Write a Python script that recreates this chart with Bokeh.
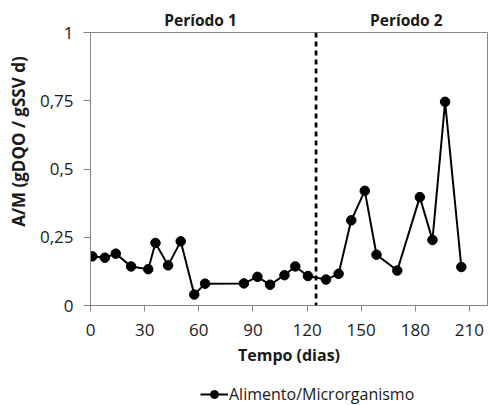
import math
from bokeh.plotting import figure
from bokeh.layouts import column, row
from bokeh.models import FixedTicker, Legend, LegendItem, Span, LinearAxis, Label
from bokeh.embed import file_html
from bokeh.resources import INLINE

# ---- data ----
days = [1, 8, 14, 22.5, 32, 36, 43, 50, 57.5, 63.5, 85, 92.5, 99.5, 107.5,
        113.5, 120.5, 130.5, 137.5, 144.5, 152, 158.5, 170, 182.5, 189.5,
        196.5, 205.5]
am = [0.18, 0.175, 0.19, 0.143, 0.133, 0.229, 0.147, 0.235, 0.04, 0.08,
      0.081, 0.105, 0.076, 0.111, 0.143, 0.108, 0.095, 0.116, 0.312, 0.42,
      0.186, 0.128, 0.397, 0.24, 0.746, 0.141]
x_ticks = [0, 30, 60, 90, 120, 150, 180, 210]
y_ticks = [0, 0.25, 0.5, 0.75, 1]
y_tick_labels = ["0", "0,25", "0,5", "0,75", "1"]
period_names = ["Período 1", "Período 2"]
period_centers = [61, 175]
period_change = 125
series_name = "Alimento/Microrganismo"
x_title = "Tempo (dias)"
y_title = "A/M (gDQO / gSSV d)"

FONT = "Open Sans"
AXIS_GRAY = "#868686"
TXT = "#1a1a1a"

p = figure(width=459, height=383, output_backend="svg", toolbar_location=None,
           x_range=(0, 220), y_range=(0, 1),
           min_border_left=60, min_border_right=2, min_border_top=32,
           min_border_bottom=78)
p.xgrid.visible = False
p.ygrid.visible = False
p.outline_line_color = AXIS_GRAY
p.outline_line_width = 1

for ax in (p.xaxis, p.yaxis):
    ax.axis_line_color = AXIS_GRAY
    ax.major_tick_line_color = AXIS_GRAY
    ax.minor_tick_line_color = None
    ax.major_tick_in = 0
    ax.major_label_text_font = FONT
    ax.major_label_text_font_size = "17px"
    ax.major_label_text_color = TXT
    ax.axis_label_text_font = FONT
    ax.axis_label_text_font_style = "bold"
    ax.axis_label_text_color = TXT

p.xaxis.major_tick_out = 6
p.yaxis.major_tick_out = 7
p.xaxis.ticker = FixedTicker(ticks=x_ticks)
p.yaxis.ticker = FixedTicker(ticks=y_ticks)
p.yaxis.major_label_overrides = {t: l for t, l in zip(y_ticks, y_tick_labels)}
p.xaxis.major_label_standoff = 12
p.yaxis.major_label_standoff = 10
p.xaxis.axis_label = x_title
p.xaxis.axis_label_text_font_size = "16px"
p.xaxis.axis_label_standoff = 5

# period labels drawn as an unticked axis above the frame
period_axis = LinearAxis(ticker=FixedTicker(ticks=period_centers),
                         major_label_overrides={c: n for c, n in zip(period_centers, period_names)},
                         axis_line_color=None, major_tick_line_color=None,
                         minor_tick_line_color=None, major_tick_out=0,
                         major_label_standoff=2,
                         major_label_text_font=FONT,
                         major_label_text_font_style="bold",
                         major_label_text_font_size="15.5px",
                         major_label_text_color=TXT)
p.add_layout(period_axis, "above")

p.add_layout(Span(location=period_change, dimension="height",
                  line_color="black", line_width=2.7, line_dash="5 4"))

p.line(days, am, line_color="black", line_width=2)
p.scatter(days, am, size=9.5, fill_color="black", line_color="black")

# ---- y-axis title strip on the left (placed higher than frame centre) ----
yt = figure(width=30, height=405, output_backend="svg", toolbar_location=None,
            x_range=(0, 30), y_range=(0, 405),
            min_border_left=0, min_border_right=0, min_border_top=0,
            min_border_bottom=0)
yt.axis.visible = False
yt.grid.visible = False
yt.outline_line_color = None
yt.add_layout(Label(x=17.5, y=264, text=y_title, angle=math.pi / 2,
                    text_align="center", text_baseline="middle",
                    text_font=FONT, text_font_style="bold",
                    text_font_size="17px", text_color=TXT))

# ---- legend strip below the chart (its renderers lie outside its ranges) ----
lg = figure(width=459, height=22, output_backend="svg", toolbar_location=None,
            x_range=(-100, -90), y_range=(-100, -90),
            min_border_left=60, min_border_right=2, min_border_top=0,
            min_border_bottom=0)
lg.axis.visible = False
lg.grid.visible = False
lg.outline_line_color = None
lln = lg.line(days, am, line_color="black", line_width=2)
lpt = lg.scatter(days, am, size=7, fill_color="black", line_color="black")
legend = Legend(items=[LegendItem(label=series_name, renderers=[lln, lpt])],
                orientation="horizontal", location=(110, 0),
                label_text_font=FONT, label_text_font_size="16px",
                label_text_color=TXT, glyph_width=28, glyph_height=20,
                label_standoff=1, padding=0, margin=0, label_height=20,
                background_fill_alpha=0, border_line_alpha=0)
lg.add_layout(legend, "center")

layout = row(yt, column(p, lg, spacing=0), spacing=0)
open("out.html", "w").write(file_html(layout, INLINE))
